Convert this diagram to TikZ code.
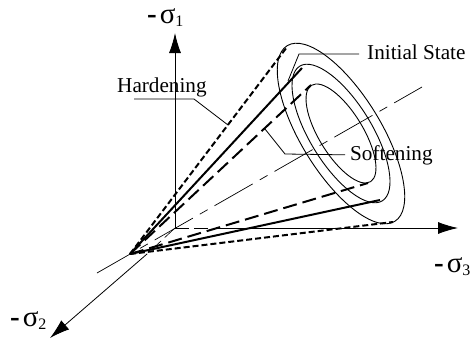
\documentclass[tikz,border=0pt]{standalone}
\usepackage{fontspec}
\setmainfont{Liberation Serif}
\usepackage{tikz}
\usetikzlibrary{arrows.meta, calc}
\tikzset{
  axisline/.style={line width=0.8pt,-{Latex[length=20pt,width=12pt]}},
  hiddenline/.style={line width=0.6pt,dash pattern=on 14pt off 5pt},
  leader/.style={line width=0.8pt},
  rim/.style={line width=0.9pt},
  outerray/.style={line width=2pt,dash pattern=on 6pt off 3pt},
  midray/.style={line width=2pt},
  innerray/.style={line width=2pt,dash pattern=on 14pt off 6pt},
  axiscentre/.style={line width=0.7pt,dash pattern=on 44pt off 8pt on 9pt off 8pt,dash phase=12pt},
  lab/.style={font=\fontsize{21.2}{24}\selectfont,inner sep=0pt},
  siglab/.style={font=\fontsize{29}{30}\selectfont,inner sep=0pt}
}
\newcommand{\sigmark}[1]{{\bfseries -}\hspace{3pt}σ\raisebox{-3pt}{\fontsize{16}{18}\selectfont #1}}
\begin{document}
\begin{tikzpicture}[x=1pt,y=-1pt]
  \useasboundingbox (0,0) rectangle (473,340);
  \coordinate (orig) at (175,228);
  \coordinate (apex) at (130,254);
  \coordinate (cen) at (341,133.5);
  \coordinate (tipone) at (175,33);
  \coordinate (tipthree) at (458,228);
  \coordinate (tiptwo) at (50,338);
  \coordinate (outtop) at (287,47);
  \coordinate (outbot) at (393,222);
  \coordinate (midtop) at (302,68);
  \coordinate (midbot) at (380,200);
  \coordinate (intop) at (311,85);
  \coordinate (inbot) at (368,183);
  \coordinate (lineA) at (97,273);
  \coordinate (lineB) at (422,87);

  \draw[axisline] (orig) -- (tipone);
  \draw[axisline] (222,228) -- (tipthree);
  \draw[hiddenline] (orig) -- (222,228);
  \draw[axisline] (147,254) -- (tiptwo);
  \draw[hiddenline] (orig) -- (147,254);
  \draw[axiscentre] (lineB) -- (lineA);

  \draw[rim,shift={(cen)},rotate=-58.5] (0,0) ellipse (103 and 40);
  \draw[rim,shift={(cen)},rotate=-58.5] (0,0) ellipse (79 and 31);
  \draw[rim,shift={(cen)},rotate=-58.5] (0,0) ellipse (56.5 and 22);

  \draw[outerray] (apex) -- (outtop);
  \draw[outerray] (apex) -- (outbot);
  \draw[midray] (apex) -- (midtop);
  \draw[midray] (apex) -- (midbot);
  \draw[innerray] (apex) -- (intop);
  \draw[innerray] (apex) -- (inbot);

  \node[lab,anchor=base west] (initlab) at (367,59) {Initial State};
  \node[lab,anchor=base west] (softlab) at (350,160) {Softening};
  \node[lab,anchor=base west] (hardlab) at (117,92) {Hardening};
  \coordinate (initend) at (288,81);
  \coordinate (softend) at (265,129);
  \coordinate (hardend) at (228,125);
  \draw[leader] (initlab.west |- 0,54) ++(-8,0) -- (299,54) -- (initend);
  \draw[leader] (softlab.west) ++(-5,0) -- (285,154) -- (softend);
  \draw[leader] (134,99) -- (194,99) -- (hardend);

  \node[siglab,anchor=base west] (sigone) at (147,23) {\sigmark{1}};
  \node[siglab,anchor=base west] (sigthree) at (434,272) {\sigmark{3}};
  \node[siglab,anchor=base west] (sigtwo) at (10,326) {\sigmark{2}};
\end{tikzpicture}
\end{document}
